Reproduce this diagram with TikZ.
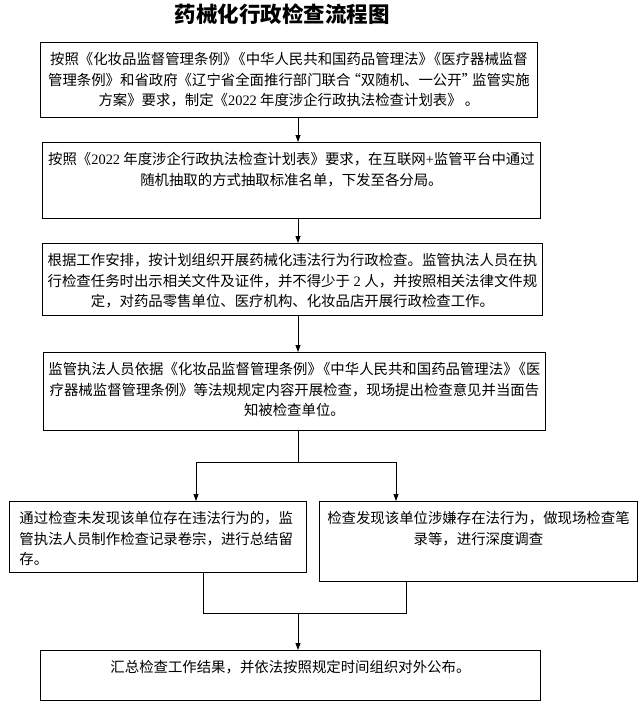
\documentclass[tikz,border=0pt]{standalone}
\usepackage{fontspec}
\setmainfont{Noto Sans CJK SC}
\newfontfamily\numfont{Liberation Serif}
\usetikzlibrary{arrows.meta}
\newcommand\bodysize{\fontsize{14.4pt}{20.5pt}\selectfont}
% box body: width, height, text (top aligned, centred lines)
\newcommand\boxtext[3]{\parbox[c][#2][t]{#1}{\vspace*{10pt}\centering #3}}
\newcommand\boxtextleft[3]{\parbox[c][#2][t]{#1}{\vspace*{10pt}\raggedright #3}}
% squeeze between closing and opening book marks
\newcommand\bkpair{》\kern-6pt《}
\tikzset{
  stepbox/.style={draw, line width=0.9pt, inner xsep=0pt, inner ysep=0pt, anchor=north west, font=\bodysize},
  link/.style={line width=0.8pt},
}

\begin{document}
\begin{tikzpicture}[x=1pt, y=-1pt, >={Triangle[length=7pt,width=5pt]}]
  \useasboundingbox (0,0) rectangle (644,718);
  \node[font=\fontsize{21.5pt}{24pt}\selectfont\bfseries] (title) at (282,14) {药械化行政检查流程图};
  \node[stepbox] (plan) at (40,42) {\boxtext{497pt}{75pt}{按照《化妆品监督管理条例\bkpair 中华人民共和国药品管理法\bkpair 医疗器械监督\\管理条例》和省政府《辽宁省全面推行部门联合\kern-4pt“双随机、一公开”\kern-4pt 监管实施\\方案》要求，制定《{\numfont 2022} 年度涉企行政执法检查计划表》 。}};
  \node[stepbox] (draw) at (42,142) {\boxtext{498pt}{76pt}{按照《{\numfont 2022} 年度涉企行政执法检查计划表》要求，在互联网{\numfont +}监管平台中通过\\随机抽取的方式抽取标准名单，下发至各分局。}};
  \node[stepbox] (organise) at (42,243) {\boxtext{500pt}{72pt}{根据工作安排，按计划组织开展药械化违法行为行政检查。监管执法人员在执\\行检查任务时出示相关文件及证件，并不得少于{\numfont\ 2 }人，并按照相关法律文件规\\定，对药品零售单位、医疗机构、化妆品店开展行政检查工作。}};
  \node[stepbox] (inspect) at (43,352) {\boxtext{502pt}{78pt}{监管执法人员依据《化妆品监督管理条例\bkpair 中华人民共和国药品管理法\bkpair 医\\疗器械监督管理条例》等法规规定内容开展检查，现场提出检查意见并当面告\\知被检查单位。}};
  \node[stepbox] (clean) at (9,501) {\hspace*{10pt}\boxtextleft{287pt}{71pt}{通过检查未发现该单位存在违法行为的，监\\管执法人员制作检查记录卷宗，进行总结留\\存。}};
  \node[stepbox] (suspect) at (319,501) {\boxtext{318pt}{80pt}{检查发现该单位涉嫌存在法行为，做现场检查笔\\录等，进行深度调查}};
  \node[stepbox] (publish) at (40,650) {\boxtext{500pt}{50pt}{汇总检查工作结果，并依法按照规定时间组织对外公布。}};

  % connectors
  \coordinate (spine) at (298,0);
  \coordinate (split) at (298,462);
  \coordinate (lsplit) at (196,462);
  \coordinate (rsplit) at (396,462);
  \coordinate (merge) at (298,613);
  \coordinate (lmerge) at (203,613);
  \coordinate (rmerge) at (406,613);
  \draw[link, ->] (plan.south -| spine) -- (draw.north -| spine);
  \draw[link, ->] (draw.south -| spine) -- (organise.north -| spine);
  \draw[link, ->] (organise.south -| spine) -- (inspect.north -| spine);
  \draw[link] (inspect.south -| spine) -- (split);
  \draw[link] (lsplit) -- (rsplit);
  \draw[link, ->] (lsplit) -- (lsplit |- clean.north);
  \draw[link, ->] (rsplit) -- (rsplit |- suspect.north);
  \draw[link] (clean.south -| lmerge) -- (lmerge) -- (rmerge) -- (suspect.south -| rmerge);
  \draw[link, ->] (merge) -- (merge |- publish.north);
\end{tikzpicture}
\end{document}
